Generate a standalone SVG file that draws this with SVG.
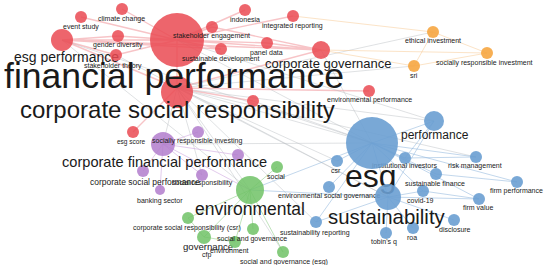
<svg xmlns="http://www.w3.org/2000/svg" width="550" height="265" viewBox="0 0 550 265">
<style>
text{font-family:"Liberation Sans",Arial,sans-serif;fill:#1a1a1a}
.r{fill:#ea4a52;fill-opacity:.85}
.b{fill:#6a9fd2;fill-opacity:.9}
.g{fill:#70c266;fill-opacity:.85}
.p{fill:#b27ccc;fill-opacity:.85}
.o{fill:#f6a641;fill-opacity:.9}
.s{font-size:7px}
.er{stroke:#ee7c82;stroke-opacity:.45;stroke-width:1.4;fill:none}
.eg{stroke:#b8bcc2;stroke-opacity:.45;stroke-width:1;fill:none}
.eb{stroke:#8fb6dc;stroke-opacity:.55;stroke-width:1;fill:none}
.egr{stroke:#96d08f;stroke-opacity:.6;stroke-width:1;fill:none}
.eo{stroke:#f7c890;stroke-opacity:.5;stroke-width:1;fill:none}
.ep{stroke:#cfa9df;stroke-opacity:.6;stroke-width:1;fill:none}
</style>
<rect width="550" height="265" fill="#fff"/>
<g id="connectors">
<path class="er" d="M177 40L62 40M177 40L81 17M177 40L122 9M177 40L118 36M177 40L116 55M177 40L212 27M177 40L245 10M177 40L293 16M177 40L267 43M177 40L221 49M177 40L321 50M177 40L177 88M177 88L62 40M177 88L321 50M177 88L253 101M177 88L369 91M321 50L267 43M321 50L212 27M62 40L118 36M62 40L116 55M62 40L321 50M177 88L133 132M62 40L221 49"/>
<path class="eg" d="M177 88L372 143M177 88L388 197M177 88L250 190M177 88L163 144M177 88L434 121M177 88L414 66M177 88L433 32M62 40L372 143M177 40L372 143M177 88L337 161M177 88L316 222M62 40L250 190M116 55L388 197M177 40L434 121M321 50L372 143M253 101L372 143M177 88L202 175M177 88L476 157M163 144L372 143M177 88L283 252"/>
<path class="eb" d="M372 143L434 121M372 143L337 161M372 143L405 158M372 143L476 157M372 143L436 174M372 143L329 187M372 143L388 197M372 143L423 191M372 143L250 190M372 143L517 182M372 143L479 199M372 143L316 222M388 197L454 220M388 197L413 228M388 197L386 233M388 197L423 191M388 197L479 199M388 197L316 222M388 197L250 190M434 121L405 158M434 121L388 197M405 158L476 157M423 191L479 199M436 174L517 182"/>
<path class="egr" d="M250 190L277 167M250 190L188 218M250 190L253 229M250 190L204 237M250 190L235 242M250 190L283 252M204 237L235 242M188 218L204 237"/>
<path class="eo" d="M433 32L487 53M414 66L487 53M414 66L433 32M433 32L293 16M487 53L321 50M414 66L321 50"/>
<path class="ep" d="M163 144L198 132M163 144L143 171M163 144L202 175M163 144L160 190M163 144L238 155M163 144L250 190"/>
</g>
<g id="stakeholder-engagement"><circle class="r" cx="177" cy="40" r="27"/><text class="s" x="173" y="38">stakeholder engagement</text></g>
<g id="esg-performance"><circle class="r" cx="62" cy="40" r="11"/><text x="14" y="62" font-size="14">esg performance</text></g>
<g id="event-study"><circle class="r" cx="81" cy="17" r="6"/><text class="s" x="63" y="29">event study</text></g>
<g id="climate-change"><circle class="r" cx="122" cy="9" r="6"/><text class="s" x="98" y="21">climate change</text></g>
<g id="gender-diversity"><circle class="r" cx="118" cy="36" r="6"/><text class="s" x="93" y="47">gender diversity</text></g>
<g id="stakeholder-theory"><circle class="r" cx="116" cy="55" r="6"/><text class="s" x="84" y="68">stakeholder theory</text></g>
<g id="indonesia"><circle class="r" cx="245" cy="10" r="6"/><text class="s" x="230" y="22">indonesia</text></g>
<g id="red-node-a"><circle class="r" cx="212" cy="27" r="6"/></g>
<g id="integrated-reporting"><circle class="r" cx="293" cy="16" r="6"/><text class="s" x="262" y="28">integrated reporting</text></g>
<g id="panel-data"><circle class="r" cx="267" cy="43" r="6"/><text class="s" x="250" y="55">panel data</text></g>
<g id="sustainable-development"><circle class="r" cx="221" cy="49" r="6"/><text class="s" x="182" y="61">sustainable development</text></g>
<g id="corporate-governance"><circle class="r" cx="321" cy="50" r="9"/><text x="265" y="68" font-size="13">corporate governance</text></g>
<g id="red-node-b"><circle class="r" cx="253" cy="101" r="6"/></g>
<g id="environmental-performance"><circle class="r" cx="369" cy="91" r="6"/><text class="s" x="327" y="102">environmental performance</text></g>
<g id="esg-score"><circle class="r" cx="133" cy="132" r="6"/><text x="117" y="144" font-size="6.5">esg score</text></g>
<g id="ethical-investment"><circle class="o" cx="433" cy="32" r="6"/><text class="s" x="405" y="43">ethical investment</text></g>
<g id="socially-responsible-investment"><circle class="o" cx="487" cy="53" r="6"/><text class="s" x="436" y="65">socially responsible investment</text></g>
<g id="sri"><circle class="o" cx="414" cy="66" r="6"/><text class="s" x="410" y="78">sri</text></g>
<g id="socially-responsible-investing"><circle class="p" cx="163" cy="144" r="12"/><text class="s" x="152" y="143">socially responsible investing</text></g>
<g id="purple-node-a"><circle class="p" cx="198" cy="132" r="6"/></g>
<g id="purple-node-b"><circle class="p" cx="238" cy="155" r="6"/></g>
<g id="corporate-social-performance"><circle class="p" cx="143" cy="171" r="6"/><text x="90" y="185" font-size="8.5">corporate social performance</text></g>
<g id="social-responsibility"><circle class="p" cx="202" cy="175" r="6"/><text class="s" x="172" y="185">social responsibility</text></g>
<g id="banking-sector"><circle class="p" cx="160" cy="190" r="5"/><text class="s" x="137" y="203">banking sector</text></g>
<g id="social"><circle class="g" cx="277" cy="167" r="6"/><text class="s" x="267" y="179">social</text></g>
<g id="csr-paren"><circle class="g" cx="188" cy="218" r="6"/><text class="s" x="133" y="230">corporate social responsibility (csr)</text></g>
<g id="green-node-a"><circle class="g" cx="253" cy="229" r="6"/></g>
<g id="governance"><circle class="g" cx="204" cy="237" r="7"/><text x="183" y="250" font-size="9.6">governance</text></g>
<g id="social-and-governance"><circle class="g" cx="235" cy="242" r="6"/><text class="s" x="217" y="241">social and governance</text></g>
<g id="environment"><text class="s" x="210" y="253">environment</text></g>
<g id="cfp"><text class="s" x="202" y="257">cfp</text></g>
<g id="social-and-governance-esg"><circle class="g" cx="283" cy="252" r="6"/><text class="s" x="240" y="264">social and governance (esg)</text></g>
<g id="environmental"><circle class="g" cx="250" cy="190" r="14"/><text x="195" y="215" font-size="17.5">environmental</text></g>
<g id="performance"><circle class="b" cx="434" cy="121" r="10"/><text x="401" y="139" font-size="12">performance</text></g>
<g id="csr"><circle class="b" cx="337" cy="161" r="6"/><text class="s" x="331" y="173">csr</text></g>
<g id="institutional-investors"><circle class="b" cx="405" cy="158" r="6"/><text class="s" x="372" y="168">institutional investors</text></g>
<g id="risk-management"><circle class="b" cx="476" cy="157" r="6"/><text class="s" x="448" y="168">risk management</text></g>
<g id="blue-node-a"><circle class="b" cx="436" cy="174" r="6"/></g>
<g id="environmental-social-governance"><circle class="b" cx="329" cy="187" r="6"/><text class="s" x="278" y="198">environmental social governance</text></g>
<g id="covid-19"><circle class="b" cx="423" cy="191" r="6"/><text class="s" x="407" y="203">covid-19</text></g>
<g id="sustainable-finance"><text class="s" x="405" y="186">sustainable finance</text></g>
<g id="firm-performance"><circle class="b" cx="517" cy="182" r="6"/><text class="s" x="490" y="193">firm performance</text></g>
<g id="firm-value"><circle class="b" cx="479" cy="199" r="6"/><text class="s" x="463" y="210">firm value</text></g>
<g id="disclosure"><circle class="b" cx="454" cy="220" r="6"/><text class="s" x="439" y="232">disclosure</text></g>
<g id="roa"><circle class="b" cx="413" cy="228" r="6"/><text class="s" x="407" y="240">roa</text></g>
<g id="tobins-q"><circle class="b" cx="386" cy="233" r="6"/><text class="s" x="371" y="244">tobin's q</text></g>
<g id="sustainability-reporting"><circle class="b" cx="316" cy="222" r="6"/><text class="s" x="280" y="235">sustainability reporting</text></g>
<g id="esg"><circle class="b" cx="372" cy="143" r="26"/><text x="345" y="187" font-size="32">esg</text></g>
<g id="sustainability"><circle class="b" cx="388" cy="197" r="13"/><text x="328" y="224" font-size="20.4">sustainability</text></g>
<g id="corporate-financial-performance"><text x="62" y="167" font-size="14.6">corporate financial performance</text></g>
<g id="financial-performance"><circle class="r" cx="177" cy="92" r="16"/><text x="4" y="88" font-size="35.6">financial performance</text></g>
<g id="corporate-social-responsibility"><text x="20" y="118" font-size="24">corporate social responsibility</text></g>
</svg>
